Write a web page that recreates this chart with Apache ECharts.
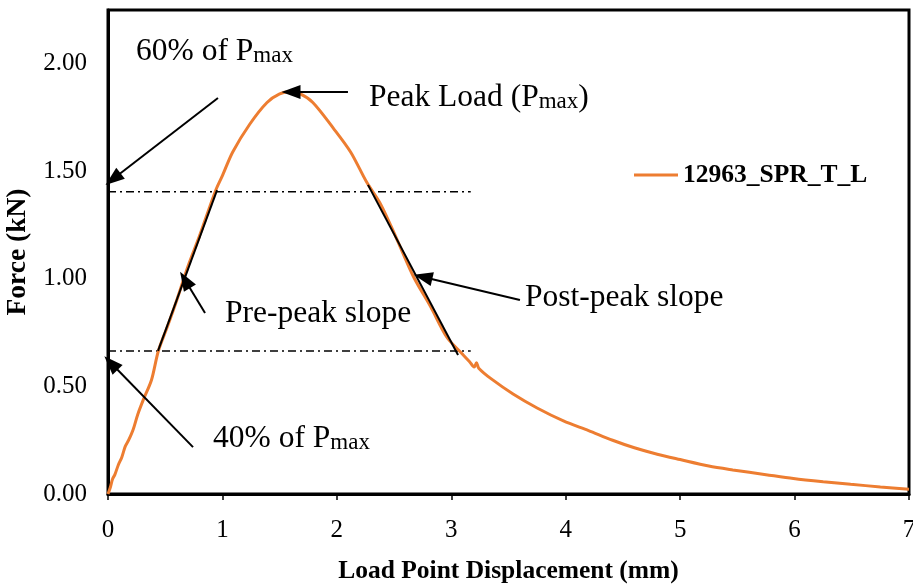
<!DOCTYPE html>
<html>
<head>
<meta charset="utf-8">
<script src="https://cdn.jsdelivr.net/npm/echarts@6/dist/echarts.min.js"></script>
<style>
html,body{margin:0;padding:0;background:#fff;}
#c{width:913px;height:584px;}
</style>
</head>
<body>
<div id="c"></div>
<script>
// ---- data ----
const dispX = [0,0.02,0.04,0.06,0.09,0.12,0.15,0.18,0.22,0.26,0.31,0.38,0.44,0.52,0.60,0.70,0.80,0.94,1.00,1.09,1.24,1.39,1.50,1.59,1.68,1.79,1.97,2.12,2.26,2.38,2.52,2.67,2.82,2.96,3.08,3.16,3.20,3.22,3.24,3.35,3.54,3.75,3.98,4.20,4.41,4.60,4.80,5.00,5.25,5.46,5.75,5.99,6.25,6.49,6.75,7.00];
const forceY = [0,0.03,0.07,0.09,0.135,0.17,0.22,0.25,0.30,0.37,0.44,0.53,0.665,0.78,0.90,1.06,1.20,1.41,1.48,1.59,1.72,1.82,1.86,1.87,1.86,1.82,1.70,1.59,1.45,1.35,1.19,1.01,0.87,0.73,0.66,0.615,0.59,0.61,0.585,0.535,0.465,0.40,0.34,0.295,0.25,0.215,0.185,0.16,0.13,0.112,0.09,0.072,0.057,0.045,0.033,0.022];
const seriesName = '12963_SPR_T_L';
const xTicks = [0,1,2,3,4,5,6,7];
const yTicks = ['0.00','0.50','1.00','1.50','2.00'];

// reference levels (dash-dot) : [y, xStart, xEnd]
const levelLines = [[1.405,0,3.17],[0.665,0,3.17]];
// slope lines : [x1,y1,x2,y2]
const slopeLines = [[0.437,0.665,0.953,1.413],[2.272,1.437,3.059,0.646]];
// arrows : [tailX,tailY,tipX,tipY]
const arrows = [
  [0.961,1.841,0.044,1.464],
  [2.097,1.869,1.599,1.869],
  [0.848,0.841,0.673,0.995],
  [3.600,0.902,2.753,1.009],
  [0.743,0.218,0.026,0.609]
];
// annotation texts : [main, subscript, suffix, x(left), y(center)]
const notes = [
  ['60% of P','max','',0.245,2.055],
  ['Peak Load (P','max',')',2.281,1.841],
  ['Pre-peak slope','','',1.022,0.837],
  ['Post-peak slope','','',3.644,0.911],
  ['40% of P','max','',0.918,0.256]
];

const FONT = '"Liberation Serif","Times New Roman",serif';
const chart = echarts.init(document.getElementById('c'), null, {renderer:'canvas'});

const series = [{
  name: seriesName,
  type: 'line',
  data: dispX.map((x,i)=>[x,forceY[i]]),
  showSymbol: false,
  smooth: 0.3,
  lineStyle: {color:'#ED7D31', width:3},
  itemStyle: {color:'#ED7D31'},
  z: 3,
  markLine: {
    silent: true,
    symbol: ['none','triangle'],
    symbolSize: [14,19],
    label: {show:false},
    emphasis: {disabled:true},
    lineStyle: {color:'#000', width:2, type:'solid'},
    data: arrows.map(a=>[{coord:[a[0],a[1]]},{coord:[a[2],a[3]]}])
  }
}];
levelLines.forEach(l=>{
  series.push({type:'line', silent:true, showSymbol:false, z:2,
    data:[[l[1],l[0]],[l[2],l[0]]],
    lineStyle:{color:'#000', width:1.4, type:[8,4,2,4]}});
});
slopeLines.forEach(l=>{
  series.push({type:'line', silent:true, showSymbol:false, z:4,
    data:[[l[0],l[1]],[l[2],l[3]]],
    lineStyle:{color:'#000', width:2}});
});

chart.setOption({
  animation: false,
  backgroundColor: '#fff',
  grid: {left:108, right:4, top:10, bottom:90, show:true, borderColor:'#000', borderWidth:3,
         containLabel:false, outerBoundsMode:'none'},
  legend: {
    data:[seriesName], left:629, top:157, icon:'rect', itemWidth:44, itemHeight:3, itemGap:4,
    textStyle:{fontFamily:FONT, fontWeight:'bold', fontSize:25.5, color:'#000'},
    selectedMode:false
  },
  xAxis: {
    type:'value', min:0, max:7, interval:1,
    name:'Load Point Displacement (mm)', nameLocation:'middle', nameGap:64,
    nameTextStyle:{fontFamily:FONT, fontWeight:'bold', fontSize:25.5, color:'#000'},
    axisLine:{show:true, lineStyle:{color:'#000', width:3}},
    axisTick:{show:true, inside:false, length:6, lineStyle:{color:'#000', width:1.5}},
    axisLabel:{fontFamily:FONT, fontSize:25, color:'#000', margin:24,
      formatter:v=>xTicks.includes(v)?String(v):''},
    splitLine:{show:false}
  },
  yAxis: {
    type:'value', min:0, max:2.25, interval:0.5,
    name:'Force (kN)', nameLocation:'middle', nameGap:74,
    nameTextStyle:{fontFamily:FONT, fontWeight:'bold', fontSize:27.5, color:'#000'},
    axisLine:{show:true, lineStyle:{color:'#000', width:3}},
    axisTick:{show:false},
    axisLabel:{fontFamily:FONT, fontSize:25, color:'#000', margin:21, showMaxLabel:false,
      padding:[4,0,0,0],
      formatter:v=>{const i=Math.round(v/0.5); return (Math.abs(v-i*0.5)<1e-9 && yTicks[i])?yTicks[i]:'';}},
    splitLine:{show:false}
  },
  series: series
});

const graphics = notes.map(n=>{
  const p = chart.convertToPixel({gridIndex:0}, [n[3], n[4]]);
  let txt = '{a|'+n[0]+'}';
  if (n[1]) txt += '{b|'+n[1]+'}';
  if (n[2]) txt += '{a|'+n[2]+'}';
  return {
    type:'text', x:p[0], y:p[1], silent:true, z:10,
    style:{
      text: txt, align:'left', verticalAlign:'middle', fill:'#000',
      rich:{
        a:{fontFamily:FONT, fontSize:31.5, lineHeight:31, fill:'#000'},
        b:{fontFamily:FONT, fontSize:23, lineHeight:23, verticalAlign:'bottom', fill:'#000'}
      }
    }
  };
});
chart.setOption({graphic: graphics});
</script>
</body>
</html>
